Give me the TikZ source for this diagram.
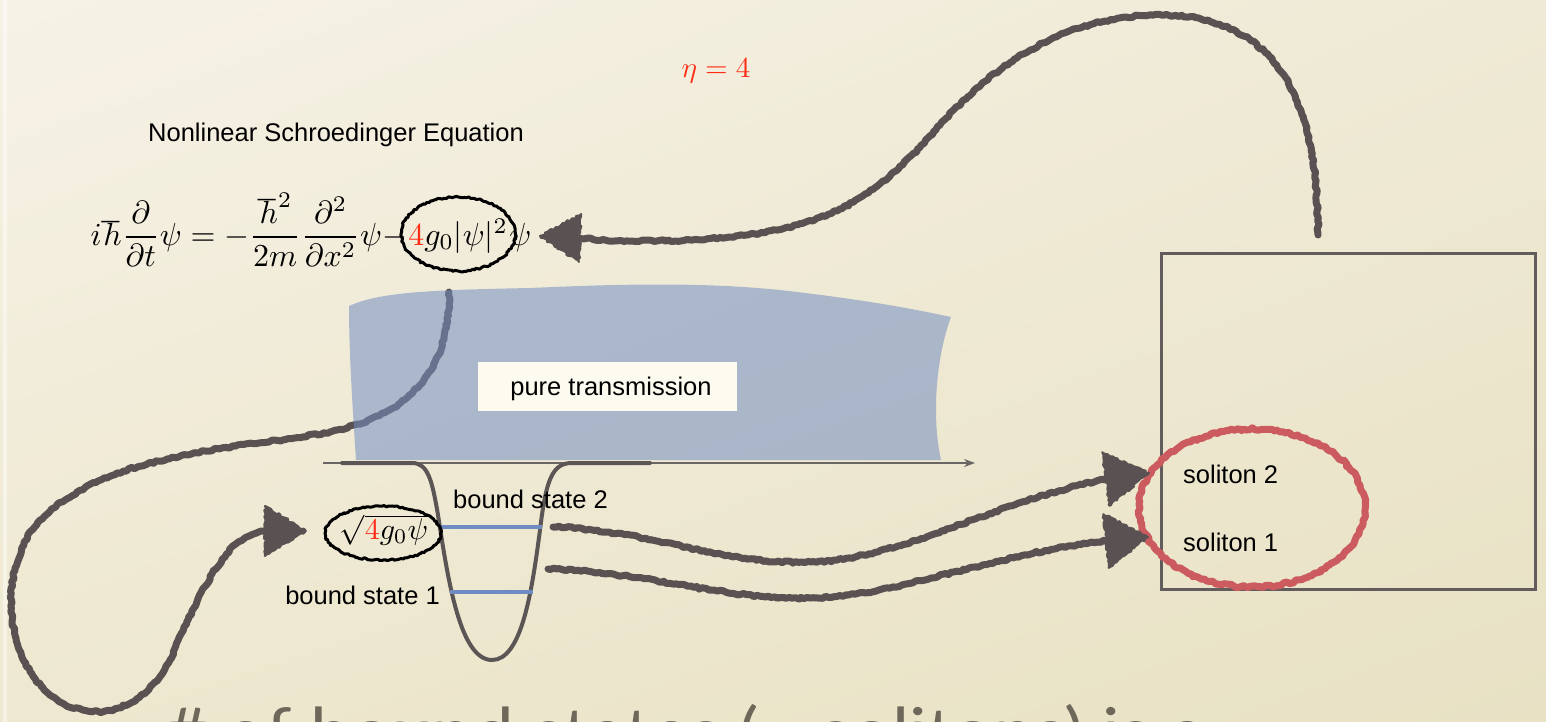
\documentclass[tikz,border=0pt]{standalone}
\usepackage{fontspec}
\setmainfont{Liberation Sans}
\newfontfamily\latofont{Lato}
\usetikzlibrary{decorations.pathmorphing,calc,arrows.meta,shadings}

\definecolor{paperA}{HTML}{F6F2E6}
\definecolor{paperB}{HTML}{EFEAD5}
\definecolor{paperC}{HTML}{EEE8D0}
\definecolor{paperD}{HTML}{E8E1C4}
\definecolor{chalkgray}{HTML}{5A5252}
\definecolor{wellgray}{HTML}{5B5555}
\definecolor{axisgray}{HTML}{6B6666}
\definecolor{boxgray}{HTML}{625C5C}
\definecolor{levelblue}{HTML}{6E8CC2}
\definecolor{regionblue}{RGB}{115,142,194}
\definecolor{hotred}{HTML}{FF2D16}
\definecolor{ringred}{HTML}{CB5B5E}
\definecolor{labelbox}{HTML}{FDFBEF}
\definecolor{subgray}{HTML}{6D685A}

% chalk arrow head: tip, base, half width
\newcommand\chalktip[3]{%
  \filldraw[chalkhead] (#1) -- ($(#2)!#3!90:(#1)$) -- ($(#2)!#3!-90:(#1)$) -- cycle;}

\begin{document}
\begin{tikzpicture}[x=1pt,y=-1pt,
  txt/.style={font=\fontsize{25.5}{30}\selectfont, inner sep=0pt, text=black},
  mathtxt/.style={scale=2.72, inner sep=0pt},
  eqpart/.style={scale=3.2, inner sep=0pt, anchor=base west},
  chalk/.style={draw=chalkgray, line width=7pt, line cap=round, line join=round,
    decorate, decoration={random steps, segment length=3pt, amplitude=1.1pt}},
  chalkhead/.style={fill=chalkgray, draw=chalkgray, line width=2pt, line join=round,
    decorate, decoration={random steps, segment length=2.5pt, amplitude=1.2pt}},
  inkring/.style={draw=black, line width=3pt, line join=round,
    decorate, decoration={random steps, segment length=2pt, amplitude=0.9pt}},
  redring/.style={draw=ringred, line width=7pt, line cap=round, line join=round,
    decorate, decoration={random steps, segment length=3pt, amplitude=1.3pt}},
  level/.style={draw=levelblue, line width=3.5pt},
]
\pgfmathsetseed{11}
\path[use as bounding box] (0,0) rectangle (1546,722);
\clip (0,0) rectangle (1546,722);

% paper background
\shade[upper left=paperA, upper right=paperB, lower left=paperC, lower right=paperD]
  (0,0) rectangle (1546,722);
\fill[white, opacity=0.45] (3,0) rectangle (7,722);

% headings and equation
\node[txt, anchor=base west] (title) at (148,142) {Nonlinear Schroedinger Equation};
\node[mathtxt, scale=1.07, text=hotred] (eta) at (716,71) {$\eta = 4$};
\node[eqpart] (lhs) at (90,245)
  {$\displaystyle i\hbar\frac{\partial}{\partial t}\psi = -\frac{\hbar^2}{2m}\frac{\partial^2}{\partial x^2}\psi{-}$};
\node[eqpart] (nlterm) at (lhs.base east) {${\color{hotred}4}g_0|\psi|^2$};
\node[eqpart] (tail) at (nlterm.base east) {$\psi$};
\coordinate (ringAy) at (0,234);
\coordinate (ringA) at (nlterm.center |- ringAy);
\draw[inkring] (ringA) ellipse [x radius=57pt, y radius=37pt];

% loop from the nonlinear term down to the well (passes under the shaded region)
\coordinate (a2s) at (449,292);
\coordinate (a2b) at (265,531);
\coordinate (a2t) at (306,531);
\draw[chalk] (a2s) .. controls (450,370) and (410,415) .. (330,432)
  .. controls (250,448) and (110,450) .. (40,520)
  .. controls (0,565) and (0,650) .. (50,695)
  .. controls (90,725) and (140,715) .. (170,660)
  .. controls (190,615) and (215,555) .. (245,538)
  .. controls (252,534) and (258,532) .. (a2b);
\chalktip{a2t}{a2b}{25pt}

% transmission region
\fill[regionblue, opacity=0.55] (349,306) .. controls (380,292) and (430,290) .. (530,288)
  .. controls (620,284) and (700,282) .. (780,290)
  .. controls (850,298) and (900,306) .. (951,317)
  .. controls (935,360) and (932,420) .. (941,460)
  -- (356,460) .. controls (352,400) and (349,350) .. (349,306) -- cycle;
\node[txt, fill=labelbox, minimum width=259pt, minimum height=49pt] (pure) at (607,386) {};
\node[txt, anchor=base] at (611,395) {pure transmission};

% axis and potential well
\coordinate (axL) at (323,463);
\coordinate (axR) at (975,463);
\draw[axisgray, line width=2pt, -{Stealth[length=11pt,width=8pt]}] (axL) -- (axR);
\draw[wellgray, line width=4pt, line cap=round, line join=round]
  (342,463) -- (412,463) .. controls (428,463) and (432,480) .. (438,515)
  .. controls (448,580) and (460,660) .. (492,660)
  .. controls (522,660) and (532,590) .. (540,530)
  .. controls (546,480) and (552,463) .. (572,463) -- (650,463);
\coordinate (bs2L) at (441,527);
\coordinate (bs2R) at (542,527);
\coordinate (bs1L) at (450,592);
\coordinate (bs1R) at (533,592);
\draw[level] (bs2L) -- (bs2R);
\draw[level] (bs1L) -- (bs1R);
\node[txt, anchor=base west] (bs2) at (453,508) {bound state 2};
\node[txt, anchor=base east] (bs1) at (440,604) {bound state 1};
\node[mathtxt, scale=1.1] (amp) at (384,530) {$\sqrt{{\color{hotred}4}g_0\psi}$};
\coordinate (ringB) at (383,533);
\draw[inkring] (ringB) ellipse [x radius=58pt, y radius=27pt];

% soliton panel
\node[draw=boxgray, line width=3pt, minimum width=374pt, minimum height=336pt,
  inner sep=0pt, anchor=north west] (solbox) at (1160,252) {};
\node[txt, anchor=base west] (sol2) at (1183,483) {soliton 2};
\node[txt, anchor=base west] (sol1) at (1183,551) {soliton 1};
\coordinate (ringC) at (1252,508);
\draw[redring] ($(ringC)+(97.9pt,39.5pt)$)
  arc[start angle=30, end angle=392, x radius=113pt, y radius=79pt];

% bound states feed the solitons
\coordinate (a3s) at (553,527);
\coordinate (a3b) at (1106,479);
\coordinate (a3t) at (1149,473);
\draw[chalk] (a3s) .. controls (650,530) and (720,565) .. (810,562)
  .. controls (900,560) and (1000,500) .. (a3b);
\chalktip{a3t}{a3b}{27pt}
\coordinate (a4s) at (548,569);
\coordinate (a4b) at (1106,541);
\coordinate (a4t) at (1148,537);
\draw[chalk] (a4s) .. controls (650,572) and (720,600) .. (810,598)
  .. controls (900,596) and (1000,552) .. (a4b);
\chalktip{a4t}{a4b}{27pt}

% soliton number fixes the coupling
\coordinate (a1s) at (1318,235);
\coordinate (a1b) at (580,238);
\coordinate (a1t) at (540,236);
\draw[chalk] (a1s) .. controls (1318,120) and (1290,18) .. (1165,15)
  .. controls (1060,14) and (990,70) .. (940,125)
  .. controls (880,195) and (830,228) .. (729,237)
  .. controls (680,242) and (620,242) .. (a1b);
\chalktip{a1t}{a1b}{24pt}

% caption running off the lower edge
\node[font=\latofont\fontsize{66}{78}\selectfont, text=subgray, inner sep=0pt,
  anchor=base west, xscale=1.1] (caption) at (165,755) {\# of bound states (= solitons) is a};
\end{tikzpicture}
\end{document}
